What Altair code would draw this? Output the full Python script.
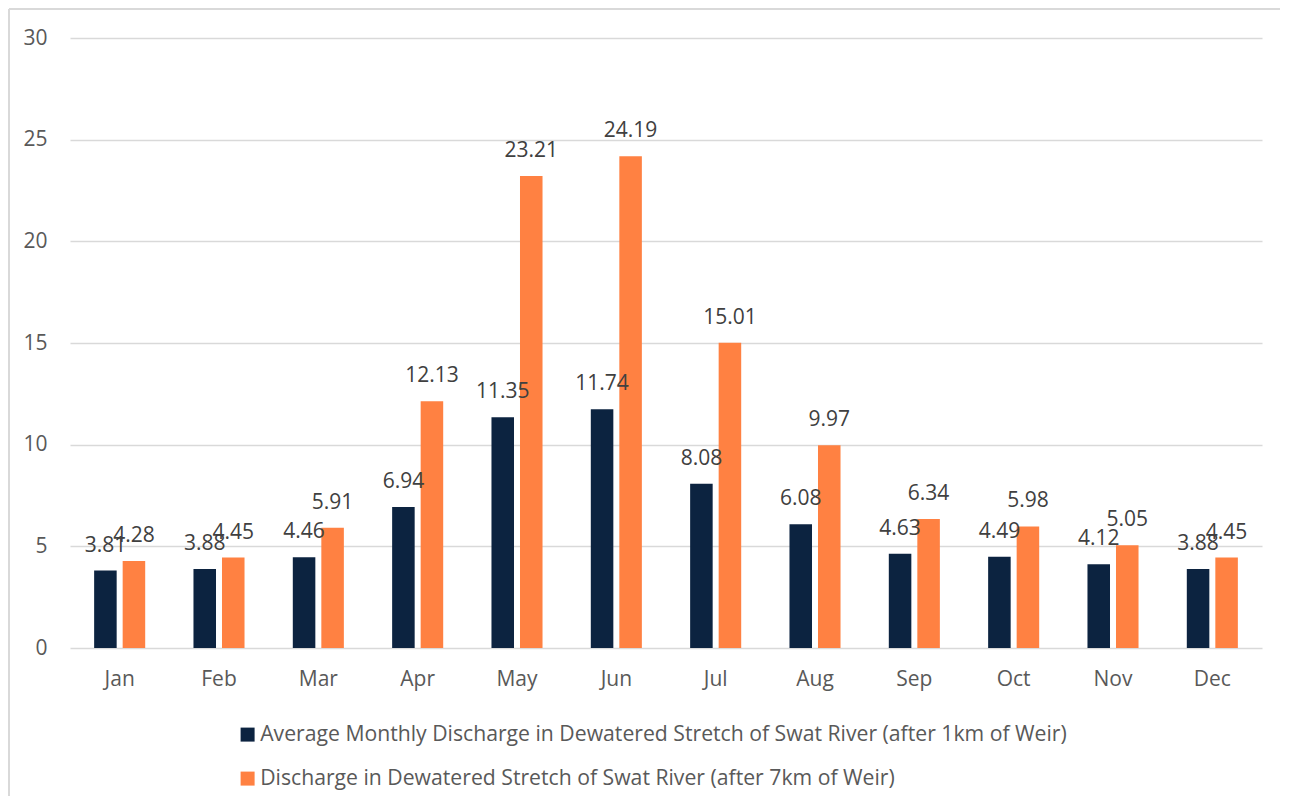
import altair as alt
import pandas as pd

months = ["Jan", "Feb", "Mar", "Apr", "May", "Jun", "Jul", "Aug", "Sep", "Oct", "Nov", "Dec"]
series_names = [
    "Average Monthly Discharge in Dewatered Stretch of Swat River (after 1km of Weir)",
    "Discharge in Dewatered Stretch of Swat River (after 7km of Weir)",
]
after_1km = [3.81, 3.88, 4.46, 6.94, 11.35, 11.74, 8.08, 6.08, 4.63, 4.49, 4.12, 3.88]
after_7km = [4.28, 4.45, 5.91, 12.13, 23.21, 24.19, 15.01, 9.97, 6.34, 5.98, 5.05, 4.45]
colors = ["#0c2340", "#ff8142"]

rows = []
for i, m in enumerate(months):
    rows.append({"month": m, "series": series_names[0], "value": after_1km[i], "label": f"{after_1km[i]:.2f}"})
    rows.append({"month": m, "series": series_names[1], "value": after_7km[i], "label": f"{after_7km[i]:.2f}"})
df = pd.DataFrame(rows)

FONT = "Open Sans"

x_enc = alt.X("month:N", sort=months, title=None,
              scale=alt.Scale(paddingInner=0.486, paddingOuter=0.243),
              axis=alt.Axis(labelAngle=0, domain=False, ticks=False, labelPadding=20,
                            labelFontSize=21, labelColor="#595959", labelFont=FONT))
xoff = alt.XOffset("series:N", sort=series_names, scale=alt.Scale(paddingInner=0.21, paddingOuter=0))

bars = alt.Chart(df).mark_bar().encode(
    x=x_enc,
    xOffset=xoff,
    y=alt.Y("value:Q", title=None,
            scale=alt.Scale(domain=[0, 30]),
            axis=alt.Axis(values=[0, 5, 10, 15, 20, 25, 30], domain=False, ticks=False,
                          labelPadding=23, labelFontSize=21, labelColor="#595959",
                          labelFont=FONT, gridColor="#d9d9d9", gridWidth=1.5)),
    color=alt.Color("series:N", sort=series_names,
                    scale=alt.Scale(domain=series_names, range=colors),
                    legend=alt.Legend(title=None, orient="none", legendX=167, legendY=686,
                                      direction="vertical", symbolType="square",
                                      symbolSize=196, symbolStrokeWidth=0,
                                      labelFontSize=21.2, labelFont=FONT, labelColor="#595959",
                                      labelLimit=1200, labelOffset=2, rowPadding=22)),
)

labels = alt.Chart(df).mark_text(baseline="middle", dy=-25, fontSize=21, font=FONT, color="#404040").encode(
    x=alt.X("month:N", sort=months),
    xOffset=xoff,
    y=alt.Y("value:Q"),
    text="label:N",
)

border_left = alt.Chart(df).mark_rule(color="#d9d9d9", strokeWidth=2).encode(
    x=alt.value(-61), y=alt.value(-29), y2=alt.value(770))
border_top = alt.Chart(df).mark_rule(color="#d9d9d9", strokeWidth=2).encode(
    x=alt.value(-61), x2=alt.value(1215), y=alt.value(-29))

chart = alt.layer(bars, labels, border_left, border_top).properties(
    width=1192, height=610,
    autosize=alt.AutoSizeParams(type="none"),
    padding={"left": 62, "top": 30, "right": 18, "bottom": 148},
).configure(background="white").configure_view(stroke=None)

chart.save("out.html", embed_options={"renderer": "svg", "actions": False})
